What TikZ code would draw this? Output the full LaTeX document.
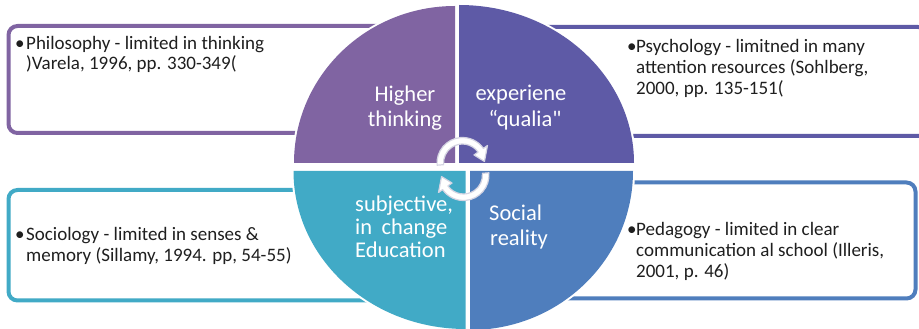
\documentclass[tikz,border=0pt]{standalone}
\usepackage{fontspec}
\setmainfont{Carlito}[Ligatures=TeXOff]
\definecolor{cTL}{HTML}{8064A2}
\definecolor{cTR}{HTML}{5E5AA6}
\definecolor{cBL}{HTML}{41AAC6}
\definecolor{cBR}{HTML}{4F7EBD}
\definecolor{textc}{HTML}{1F1F1F}
\definecolor{arrline}{HTML}{D4D4E2}
\begin{document}
\begin{tikzpicture}[x=1pt,y=1pt,
  boxline/.style={line width=4pt,rounded corners=9pt,fill=white},
  quad/.style={preaction={draw=white,line width=4pt}},
  cyc/.style={fill=white,draw=arrline,line width=1.2pt,line join=round},
  body/.style={font=\fontsize{19}{21}\selectfont,text=textc,inner sep=0pt,anchor=base west},
  lab/.style={font=\fontsize{22.5}{25}\selectfont,text=white,inner sep=0pt}]
\useasboundingbox (0,0) rectangle (919,329);
% boxes
\draw[boxline,draw=cTL] (8.5,196) rectangle (420,303);
\draw[boxline,draw=cTR] (500,193) rectangle (927,302);
\draw[boxline,draw=cBL] (8.5,28.5) rectangle (420,139);
\draw[boxline,draw=cBR] (500,30.5) rectangle (915.5,146.5);
% quadrants
\fill[quad,cTL] (455,166) -- (294,166) arc[start angle=180,end angle=90,x radius=161,y radius=157] -- cycle;
\fill[quad,cTR] (459,166) -- (459,324) arc[start angle=90,end angle=0,x radius=175,y radius=158] -- cycle;
\fill[quad,cBL] (465.5,158) -- (465.5,0) arc[start angle=270,end angle=180,x radius=172,y radius=158] -- cycle;
\fill[quad,cBR] (470,158) -- (633,158) arc[start angle=0,end angle=-90,x radius=163,y radius=159] -- cycle;
% cycle arrows
\begin{scope}[shift={(462.5,166)}]
\path[cyc] (185:25.5) arc[start angle=185,end angle=35,radius=25.5] -- (35:30.5) -- (4:22) -- (35:14) -- (35:19) arc[start angle=35,end angle=185,radius=19] -- cycle;
\end{scope}
\begin{scope}[shift={(463.5,154)},rotate=180]
\path[cyc] (185:25.5) arc[start angle=185,end angle=35,radius=25.5] -- (35:30.5) -- (4:22) -- (35:14) -- (35:19) arc[start angle=35,end angle=185,radius=19] -- cycle;
\end{scope}
% quadrant labels
\node[lab,anchor=base] (h1) at (405,227) {Higher};
\node[lab,anchor=base] (h2) at (405,202) {thinking};
\node[lab,anchor=base] (e1) at (521,228) {experiene};
\node[lab,anchor=base] (e2) at (525,202) {“qualia"};
\node[lab,anchor=base west] (s1) at (355,117) {subjective,};
\node[lab,anchor=base west] (s2) at (355,94) {\makebox[92pt][l]{in\hfill change}};
\node[lab,anchor=base west] (s3) at (355,71) {Education};
\node[lab,anchor=base west] (r1) at (489,108) {Social};
\node[lab,anchor=base west] (r2) at (490,83) {reality};
% box texts
\node[body] (tlb) at (15,279) {•};
\node[body] (tl1) at (26,279) {Philosophy - limited in thinking};
\node[body] (tl2) at (26,259) {)Varela, 1996, pp. 330-349(};
\node[body] (trb) at (627,276) {•};
\node[body] (tr1) at (636,276) {Psychology - limitned in many};
\node[body] (tr2) at (636,255) {attention resources (Sohlberg,};
\node[body] (tr3) at (636,234) {2000, pp. 135-151(};
\node[body] (blb) at (15,88) {•};
\node[body] (bl1) at (26,88) {Sociology - limited in senses \&};
\node[body] (bl2) at (26,67.3) {memory (Sillamy, 1994. pp, 54-55)};
\node[body] (brb) at (627,93) {•};
\node[body] (br1) at (636,93) {Pedagogy - limited in clear};
\node[body] (br2) at (636,72.3) {communication al school (Illeris,};
\node[body] (br3) at (636,51) {2001, p. 46)};
\end{tikzpicture}
\end{document}
